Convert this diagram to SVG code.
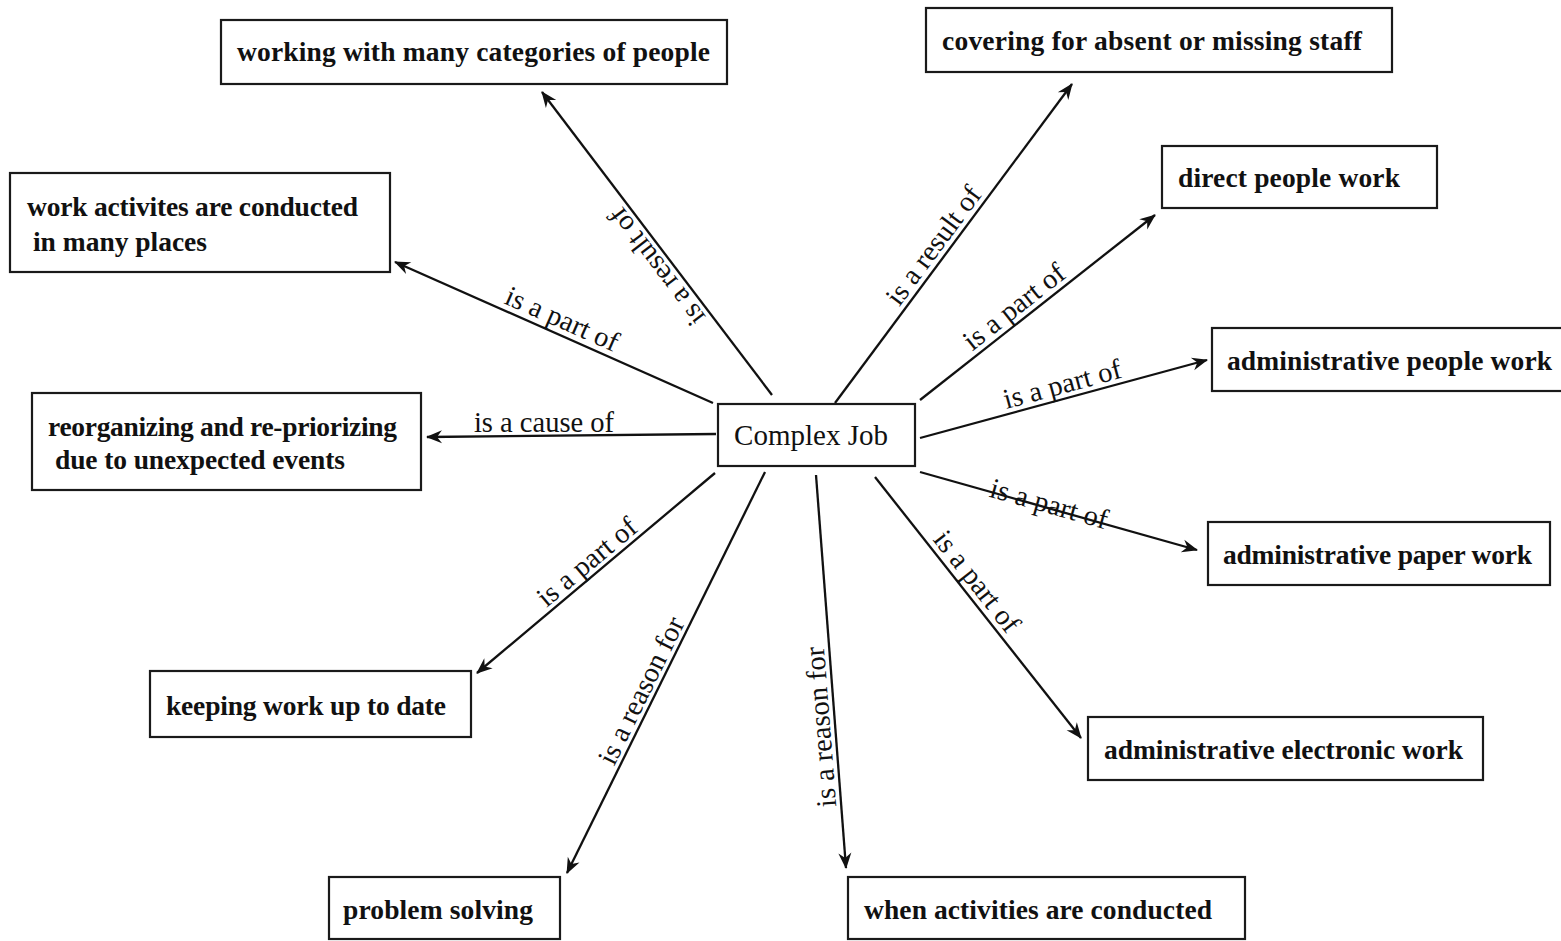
<svg xmlns="http://www.w3.org/2000/svg" width="1561" height="941" viewBox="0 0 1561 941">
<style>
.box{fill:#fff;stroke:#1a1a1a;stroke-width:2.2}
.nt{font-family:"Liberation Serif","Times New Roman",serif;font-size:27.5px;font-weight:bold;fill:#111}
.ct{font-family:"Liberation Serif","Times New Roman",serif;font-size:29px;fill:#111}
.lbl{font-family:"Liberation Serif","Times New Roman",serif;font-size:28.5px;fill:#111;text-anchor:middle}
.ln{stroke:#111;stroke-width:2.3;fill:none;marker-end:url(#ah)}
</style>
<defs>
<marker id="ah" markerUnits="userSpaceOnUse" markerWidth="20" markerHeight="16" viewBox="-17 -8 19 16" refX="0" refY="0" orient="auto">
<path d="M1,0 L-15,-6.5 L-10,0 L-15,6.5 Z" fill="#111"/>
</marker>
</defs>
<rect width="1561" height="941" fill="#fff"/>
<g id="connectors">
<line class="ln" x1="772" y1="395" x2="542" y2="92"/>
<line class="ln" x1="713" y1="403" x2="395" y2="262"/>
<line class="ln" x1="716" y1="434" x2="427" y2="437"/>
<line class="ln" x1="835" y1="403" x2="1072" y2="84"/>
<line class="ln" x1="920" y1="400" x2="1155" y2="215"/>
<line class="ln" x1="920" y1="438" x2="1207" y2="360"/>
<line class="ln" x1="920" y1="472" x2="1197" y2="550"/>
<line class="ln" x1="875" y1="477" x2="1081" y2="738"/>
<line class="ln" x1="816" y1="475" x2="846" y2="868"/>
<line class="ln" x1="765" y1="472" x2="567" y2="873"/>
<line class="ln" x1="715" y1="473" x2="477" y2="673"/>
<text class="lbl" transform="translate(668,258) rotate(232.8)" y="-5">is a result of</text>
<text class="lbl" transform="translate(556,333) rotate(23.9)" y="-6">is a part of</text>
<text class="lbl" x="544" y="432">is a cause of</text>
<text class="lbl" transform="translate(945,254) rotate(-53.4)" y="-5">is a result of</text>
<text class="lbl" transform="translate(1023,318) rotate(-38.2)" y="-5">is a part of</text>
<text class="lbl" transform="translate(1066,398) rotate(-15.2)" y="-5">is a part of</text>
<text class="lbl" transform="translate(1048,508) rotate(15.7)" y="5">is a part of</text>
<text class="lbl" transform="translate(965,591) rotate(51.7)" y="-6">is a part of</text>
<text class="lbl" transform="translate(835,726) rotate(-94.4)" y="-5">is a reason for</text>
<text class="lbl" transform="translate(654,697) rotate(-63.7)" y="-5">is a reason for</text>
<text class="lbl" transform="translate(596,573) rotate(-40)" y="-5">is a part of</text>
</g>
<g id="n-working">
<rect class="box" x="221" y="20" width="506" height="64"/>
<text class="nt" x="237" y="61" textLength="473" lengthAdjust="spacing">working with many categories of people</text>
</g>
<g id="n-covering">
<rect class="box" x="926" y="8" width="466" height="64"/>
<text class="nt" x="942" y="50" textLength="420" lengthAdjust="spacing">covering for absent or missing staff</text>
</g>
<g id="n-direct">
<rect class="box" x="1162" y="146" width="275" height="62"/>
<text class="nt" x="1178" y="187" textLength="222" lengthAdjust="spacing">direct people work</text>
</g>
<g id="n-places">
<rect class="box" x="10" y="173" width="380" height="99"/>
<text class="nt" x="27" y="216" textLength="331" lengthAdjust="spacing">work activites are conducted</text>
<text class="nt" x="33" y="251" textLength="174" lengthAdjust="spacing">in many places</text>
</g>
<g id="n-adminpeople">
<rect class="box" x="1212" y="328" width="352" height="63"/>
<text class="nt" x="1227" y="370" textLength="325" lengthAdjust="spacing">administrative people work</text>
</g>
<g id="n-reorganizing">
<rect class="box" x="32" y="393" width="389" height="97"/>
<text class="nt" x="48" y="436" textLength="349" lengthAdjust="spacing">reorganizing and re-priorizing</text>
<text class="nt" x="55" y="469" textLength="290" lengthAdjust="spacing">due to unexpected events</text>
</g>
<g id="n-complex">
<rect class="box" x="718" y="404" width="197" height="62"/>
<text class="ct" x="811" y="445" text-anchor="middle">Complex Job</text>
</g>
<g id="n-adminpaper">
<rect class="box" x="1208" y="522" width="342" height="63"/>
<text class="nt" x="1223" y="564" textLength="309" lengthAdjust="spacing">administrative paper work</text>
</g>
<g id="n-keeping">
<rect class="box" x="150" y="671" width="321" height="66"/>
<text class="nt" x="166" y="715" textLength="280" lengthAdjust="spacing">keeping work up to date</text>
</g>
<g id="n-adminelectronic">
<rect class="box" x="1088" y="717" width="395" height="63"/>
<text class="nt" x="1104" y="759" textLength="359" lengthAdjust="spacing">administrative electronic work</text>
</g>
<g id="n-problem">
<rect class="box" x="329" y="877" width="231" height="62"/>
<text class="nt" x="343" y="919" textLength="190" lengthAdjust="spacing">problem solving</text>
</g>
<g id="n-when">
<rect class="box" x="848" y="877" width="397" height="62"/>
<text class="nt" x="864" y="919" textLength="348" lengthAdjust="spacing">when activities are conducted</text>
</g>
</svg>
